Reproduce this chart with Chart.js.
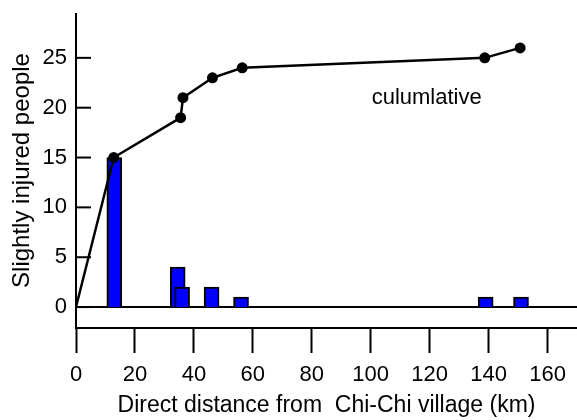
<!DOCTYPE html>
<html>
<head>
<meta charset="utf-8">
<script src="https://cdn.jsdelivr.net/npm/chart.js@4/dist/chart.umd.min.js"></script>
<style>
  html, body { margin: 0; padding: 0; background: #fff; }
  #wrap { width: 577px; height: 420px; }
</style>
</head>
<body>
<div id="wrap"><canvas id="c" width="577" height="420"></canvas></div>
<script>
// Bars: slightly injured people at each direct distance (km)
const barDistances = [13, 34.5, 36, 46, 56, 139, 151];
const injured = [15, 4, 2, 2, 1, 1, 1];
// Cumulative curve
const cumDistances = [0, 12.8, 35.5, 36.3, 46.3, 56.4, 138.7, 150.7];
const cumulative = [0, 15, 19, 21, 23, 24, 25, 26];
// Tick labels
const xTicks = [0, 20, 40, 60, 80, 100, 120, 140, 160];
const yTicks = [0, 5, 10, 15, 20, 25];
const annotationText = 'culumlative';
const annotationAt = { x: 119, y: 20.4 };

const FONT = '"Liberation Sans", Arial, sans-serif';

const axesPlugin = {
  id: 'axesPlugin',
  beforeDatasetsDraw(chart) {
    const ctx = chart.ctx;
    const y = chart.scales.y;
    const area = chart.chartArea;
    ctx.save();
    ctx.strokeStyle = '#000';
    ctx.lineWidth = 2;
    // y axis line
    ctx.beginPath();
    ctx.moveTo(area.left, area.top);
    ctx.lineTo(area.left, area.bottom);
    ctx.stroke();
    // zero line
    const y0 = y.getPixelForValue(0);
    ctx.beginPath();
    ctx.moveTo(area.left, y0);
    ctx.lineTo(area.right, y0);
    ctx.stroke();
    // inward y ticks
    yTicks.forEach(v => {
      const py = y.getPixelForValue(v);
      ctx.beginPath();
      ctx.moveTo(area.left, py);
      ctx.lineTo(area.left + 15, py);
      ctx.stroke();
    });
    ctx.restore();
  },
  afterDatasetsDraw(chart) {
    const ctx = chart.ctx;
    const x = chart.scales.x, y = chart.scales.y;
    ctx.save();
    ctx.fillStyle = '#000';
    ctx.font = '22px ' + FONT;
    ctx.textAlign = 'center';
    ctx.textBaseline = 'alphabetic';
    ctx.fillText(annotationText, x.getPixelForValue(annotationAt.x), y.getPixelForValue(annotationAt.y));
    ctx.restore();
  }
};

new Chart(document.getElementById('c'), {
  data: {
    datasets: [
      {
        type: 'line',
        data: cumDistances.map((d, i) => ({ x: d, y: cumulative[i] })),
        borderColor: '#000',
        borderWidth: 2.5,
        backgroundColor: '#000',
        pointRadius: cumDistances.map((d, i) => i === 0 ? 0 : 5.5),
        pointBackgroundColor: '#000',
        pointBorderWidth: 0,
        tension: 0,
        fill: false,
        order: 0
      },
      {
        type: 'bar',
        data: barDistances.map((d, i) => ({ x: d, y: injured[i] })),
        backgroundColor: '#0000ff',
        borderColor: '#000',
        borderWidth: 2,
        barThickness: 15,
        order: 1
      }
    ]
  },
  options: {
    responsive: false,
    animation: false,
    events: [],
    layout: { autoPadding: false, padding: { top: 13, right: 0, bottom: 0, left: 0 } },
    plugins: { legend: { display: false }, tooltip: { enabled: false }, title: { display: false } },
    scales: {
      x: {
        type: 'linear',
        offset: false,
        min: 0,
        max: 170,
        afterBuildTicks: s => { s.ticks = xTicks.map(v => ({ value: v })); },
        afterFit: s => { s.height = 92; s.paddingRight = 0; s.paddingLeft = 0; },
        grid: {
          offset: false,
          drawOnChartArea: false,
          drawTicks: true,
          tickLength: 25,
          tickWidth: 2,
          tickColor: '#000'
        },
        border: { display: true, color: '#000', width: 2 },
        ticks: {
          color: '#000',
          font: { family: FONT, size: 22 },
          padding: 9,
          maxRotation: 0,
          autoSkip: false
        },
        title: {
          display: true,
          text: 'Direct distance from  Chi-Chi village (km)',
          color: '#000',
          font: { family: FONT, size: 23 },
          padding: { top: 0, bottom: 1 }
        }
      },
      y: {
        type: 'linear',
        min: -2.1,
        max: 29.5,
        afterBuildTicks: s => { s.ticks = yTicks.map(v => ({ value: v })); },
        afterFit: s => { s.width = 76; s.paddingTop = 0; s.paddingBottom = 0; },
        grid: { display: false, drawTicks: false },
        border: { display: false },
        ticks: {
          color: '#000',
          font: { family: FONT, size: 22 },
          padding: 9
        },
        title: {
          display: true,
          text: 'Slightly injured people',
          color: '#000',
          font: { family: FONT, size: 24 },
          padding: { top: 8, bottom: 0 }
        }
      }
    }
  },
  plugins: [axesPlugin]
});
</script>
</body>
</html>
